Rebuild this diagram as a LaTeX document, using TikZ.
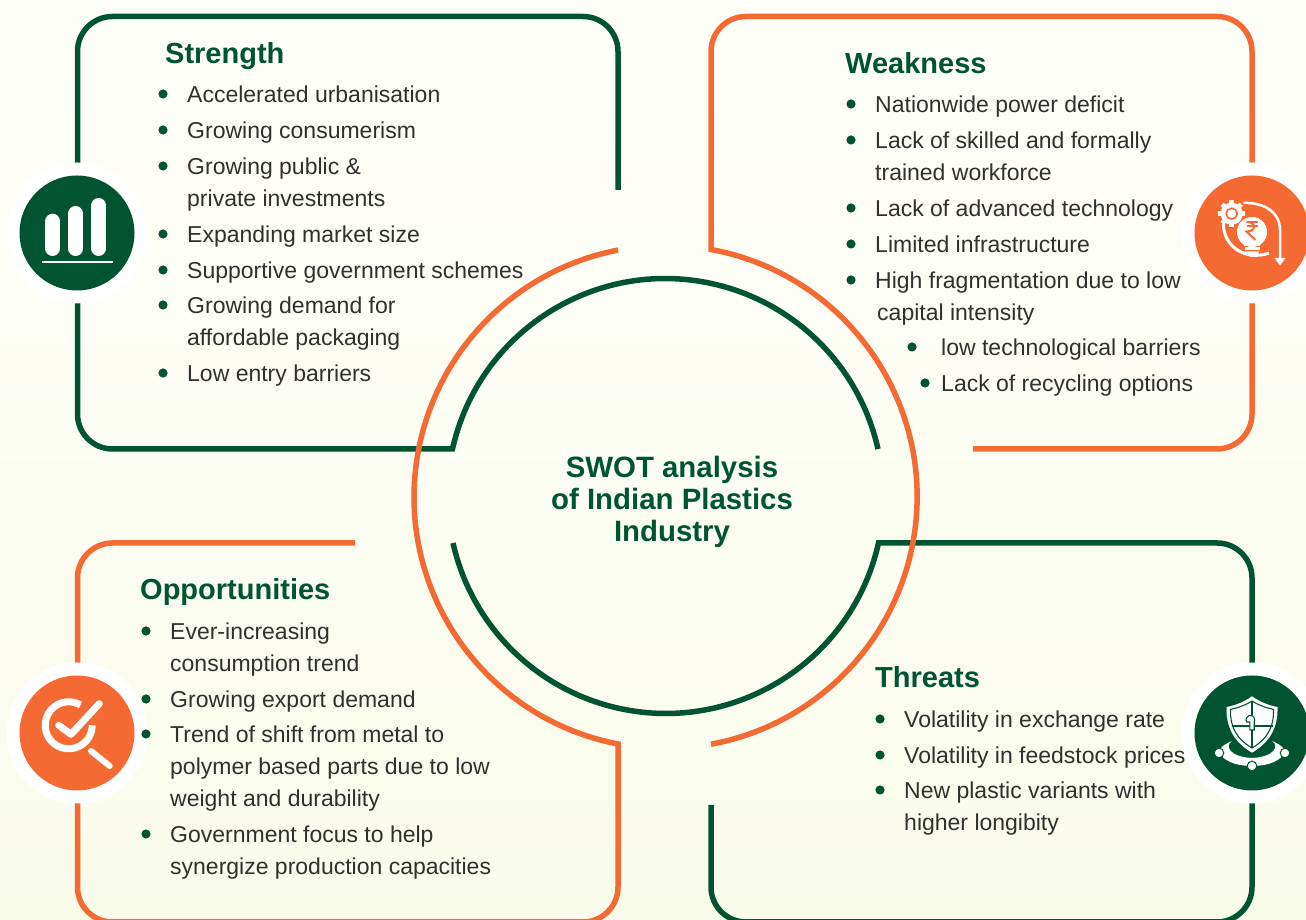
\documentclass[tikz,border=0pt]{standalone}
\usepackage{fontspec}
\setmainfont{Liberation Sans}
\usepackage{xcolor}
\definecolor{swotgreen}{HTML}{005432}
\definecolor{swotorange}{HTML}{F46A32}
\definecolor{bodygray}{HTML}{303030}
\definecolor{bgtop}{HTML}{FFFFFA}
\definecolor{bgbot}{HTML}{F9FBEB}
\tikzset{
  greenline/.style={line width=5.5pt,swotgreen,line join=miter},
  orangeline/.style={line width=5.5pt,swotorange,line join=miter},
  itemtext/.style={anchor=north west,inner sep=0pt,align=left,text=bodygray,font=\fontsize{23}{32}\selectfont\strut},
  headtext/.style={anchor=base west,inner sep=0pt,text=swotgreen,font=\fontsize{29}{32}\selectfont\bfseries},
  iconring/.style={fill=white},
}

\begin{document}
\begin{tikzpicture}[x=1pt,y=1pt]
\clip (0,0) rectangle (1306,920);
\fill[top color=bgtop,bottom color=bgbot] (0,0) rectangle (1306,920);

% frames and inner arcs
\draw[greenline] (618,730) [rounded corners=35pt] -- (618,903.5) -- (77.5,903.5) -- (77.5,471) [sharp corners] -- (452.5,471) arc [start angle=167.4, end angle=12.6, radius=218];
\draw[greenline] (711,115) [rounded corners=35pt] -- (711,-2) -- (1252,-2) -- (1252,377) [sharp corners] -- (878.5,377) arc [start angle=-12.6, end angle=-167.4, radius=218];
\draw[orangeline] (973,471) [rounded corners=35pt] -- (1252,471) -- (1252,903.5) -- (711,903.5) [sharp corners] -- (711,670.5) arc [start angle=79.6, end angle=-79.6, radius=251.5];
\draw[orangeline] (355,377) [rounded corners=35pt] -- (77.5,377) -- (77.5,-2) -- (618,-2) [sharp corners] -- (618,176) arc [start angle=-100.9, end angle=-259.1, radius=251.5];

% centre title
\node[align=center,inner sep=0pt,text=swotgreen,font=\fontsize{29.4}{32}\selectfont\bfseries] (title) at (672,418) {SWOT analysis\\of Indian Plastics\\Industry};

% strength
\node[headtext] (strengthhead) at (165,856) {Strength};
\foreach \y in {826,790,754,686,650,615,547} \fill[swotgreen] (163,\y) circle [radius=4.6];
\node[itemtext] (s1) at (187,840.4) {Accelerated urbanisation};
\node[itemtext] (s2) at (187,804.4) {Growing consumerism};
\node[itemtext] (s3) at (187,762.4) {Growing public \&\\private investments};
\node[itemtext] (s4) at (187,700.4) {Expanding market size};
\node[itemtext] (s5) at (187,664.4) {Supportive government schemes};
\node[itemtext] (s6) at (187,623.4) {Growing demand for\\affordable packaging};
\node[itemtext] (s7) at (187,561.4) {Low entry barriers};

% weakness
\node[headtext] (weaknesshead) at (845,846) {Weakness};
\foreach \y in {816,780,712,676,640} \fill[swotgreen] (851,\y) circle [radius=4.6];
\fill[swotgreen] (912,573) circle [radius=4.6];
\fill[swotgreen] (925,537) circle [radius=4.6];
\node[itemtext] (w1) at (875,830.4) {Nationwide power deficit};
\node[itemtext] (w2) at (875,788.4) {Lack of skilled and formally\\trained workforce};
\node[itemtext] (w3) at (875,726.4) {Lack of advanced technology};
\node[itemtext] (w4) at (875,690.4) {Limited infrastructure};
\node[itemtext] (w5) at (875,648.4) {High fragmentation due to low\\\hspace*{2pt}capital intensity};
\node[itemtext] (w6) at (941,587.4) {low technological barriers};
\node[itemtext] (w7) at (941,551.4) {Lack of recycling options};

% opportunities
\node[headtext] (opphead) at (140,320) {Opportunities};
\node[itemtext] (o1) at (170,297.4) {Ever-increasing\\consumption trend};
\node[itemtext] (o2) at (170,235.4) {Growing export demand};
\node[itemtext] (o3) at (170,194.4) {Trend of shift from metal to\\polymer based parts due to low\\weight and durability};
\node[itemtext] (o4) at (170,94.4) {Government focus to help\\synergize production capacities};

% threats
\node[headtext] (threathead) at (875,232) {Threats};
\foreach \y in {201,165,130} \fill[swotgreen] (880,\y) circle [radius=4.6];
\node[itemtext] (t1) at (904,215.4) {Volatility in exchange rate};
\node[itemtext] (t2) at (904,179.4) {Volatility in feedstock prices};
\node[itemtext] (t3) at (904,138.4) {New plastic variants with\\higher longibity};

% strength icon
\begin{scope}[shift={(77,687)}]
\fill[iconring] (0,0) circle [radius=70.5];
\fill[swotgreen] (0,0) circle [radius=57.5];
\draw[white,line width=15pt,line cap=round] (-24.3,-15.5) -- (-24.3,11.8);
\draw[white,line width=15pt,line cap=round] (-1.3,-15.5) -- (-1.3,19.5);
\draw[white,line width=15pt,line cap=round] (21.8,-15.5) -- (21.8,27.5);
\draw[white,line width=1.6pt] (-35,-29) -- (35.7,-29);
\end{scope}

% weakness icon
\begin{scope}[shift={(1252,687)}]
\fill[iconring] (0,0) circle [radius=70.5];
\fill[swotorange] (0,0) circle [radius=57.5];
\draw[white,line width=3pt] (-28.7,8.7) .. controls (-28,-15) and (-5,-28) .. (17,-20);
\draw[white,line width=2.5pt] (-8.7,30) .. controls (10,31) and (28,22) .. (28,3) -- (28,-25);
\fill[white] (22.5,-25) -- (33.5,-25) -- (28,-32.5) -- cycle;
\fill[white] (-20.3,19.3) circle [radius=11];
\foreach \a in {0,45,...,315} \draw[white,line width=4.5pt] (-20.3,19.3) ++(\a:9) -- ++(\a:4.5);
\draw[swotorange,line width=1.6pt] (-20.3,19.3) circle [radius=5.5];
\draw[swotorange,line width=1.5pt,fill=white] (0,1) circle [radius=15.5];
\fill[white] (0,1) circle [radius=15];
\fill[white] (-10,-9) -- (10,-9) -- (7.5,-13) -- (-7.5,-13) -- cycle;
\fill[white] (-7.5,-14.5) rectangle (7.5,-17);
\fill[white] (-7,-18.5) .. controls (-5,-26) and (5,-26) .. (7,-18.5) -- cycle;
\draw[swotorange,line width=2pt] (-5.5,11) -- (6,11) (-5.5,6.5) -- (6,6.5);
\draw[swotorange,line width=2pt] (-5.5,11) .. controls (4.5,11) and (4.5,1.5) .. (-5.5,1.5) -- (3.5,-7);
\end{scope}

% opportunities icon
\begin{scope}[shift={(77,187)}]
\fill[iconring] (0,0) circle [radius=70.5];
\fill[swotorange] (0,0) circle [radius=57.5];
\draw[white,line width=7pt] (-8.3,7.7) ++(60:23.5) arc [start angle=60, end angle=360, radius=23.5];
\draw[white,line width=7pt,line cap=round,line join=round] (-18.3,7.7) -- (-6,-1.3) -- (22.3,29.3);
\draw[white,line width=6pt,line cap=round] (14,-18) -- (32.7,-33);
\end{scope}
\foreach \y in {289,221,186,86} \fill[swotgreen] (146,\y) circle [radius=4.6];

% threats icon
\begin{scope}[shift={(1252,187)}]
\fill[iconring] (0,0) circle [radius=70.5];
\fill[swotgreen] (0,0) circle [radius=57.5];
\fill[white] (-20,-8) .. controls (-30,-12) and (-34,-17) .. (-32,-21) .. controls (-26,-30) and (-12,-33) .. (0,-33) .. controls (12,-33) and (26,-30) .. (32,-21) .. controls (34,-17) and (30,-12) .. (20,-8) .. controls (28,-13) and (22,-24) .. (0,-25) .. controls (-22,-24) and (-28,-13) .. cycle;
\fill[white] (0,36.7) .. controls (-8,31) and (-17,27.5) .. (-25.5,26) .. controls (-26,8) and (-20,-8) .. (0,-19.7) .. controls (20,-8) and (26,8) .. (25.5,26) .. controls (17,27.5) and (8,31) .. cycle;
\draw[swotgreen,line width=1.1pt] (0,32) .. controls (-7,27.5) and (-15,25) .. (-21.5,23.5) .. controls (-22,8) and (-17,-5) .. (0,-15) .. controls (17,-5) and (22,8) .. (21.5,23.5) .. controls (15,25) and (7,27.5) .. cycle;
\draw[swotgreen,line width=1.1pt] (0,32) -- (0,-15) (-20.5,7) -- (20.5,7);
\fill[white,draw=swotgreen,line width=1.1pt] (-2.2,11) -- (-2.2,3) -- (2.2,3) -- (2.2,11) arc [start angle=-30, end angle=210, radius=4.4] -- cycle;
\foreach \p in {(-33,-20),(33,-20),(0,-33)} \fill[white,draw=swotgreen,line width=1pt] \p circle [radius=4.8];
\end{scope}
\end{tikzpicture}
\end{document}
